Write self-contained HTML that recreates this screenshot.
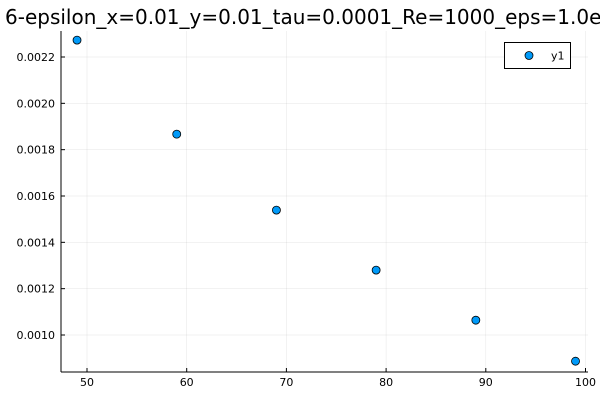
<!DOCTYPE html>
<html><head><meta charset="utf-8"><style>
html,body{margin:0;padding:0;background:#fff;}
svg{display:block;font-family:"DejaVu Sans","Liberation Sans",sans-serif;}
</style></head><body>
<svg id="chart" width="600" height="400" viewBox="0 0 600 400">
<text x="5" y="24" font-size="20" fill="#000">6-epsilon_x=0.01_y=0.01_tau=0.0001_Re=1000_eps=1.0e-6</text>
<g id="grid"></g>
<g id="axes"></g>
<g id="points"></g>
<g>
<rect x="504.5" y="42.5" width="66" height="26" fill="#fff" stroke="#000" stroke-width="1"/>
<circle cx="529" cy="55.5" r="4" fill="#009af9" stroke="#000" stroke-width="0.8"/>
<text x="551" y="59.5" font-size="11" fill="#000">y1</text>
</g>
</svg>
<script>
const xValues=[49,59,69,79,89,99];
const yValues=[0.002273,0.001867,0.001539,0.00128,0.001064,0.000887];
const xTicks=[50,60,70,80,90,100];
const yTicks=[0.0010,0.0012,0.0014,0.0016,0.0018,0.0020,0.0022];
const L=61,R=588,T=31,B=372;
function sx(v){return 87+(v-50)*(585.5-87)/50;}
function sy(v){return 57+(0.0022-v)/0.0012*(335-57);}
const NS="http://www.w3.org/2000/svg";
const grid=document.getElementById('grid'),axes=document.getElementById('axes'),pts=document.getElementById('points');
function mk(tag,attrs,parent){const e=document.createElementNS(NS,tag);for(const k in attrs)e.setAttribute(k,attrs[k]);parent.appendChild(e);return e;}
xTicks.forEach(t=>{const x=sx(t);
 const g=mk('line',{x1:x,x2:x,y1:T,y2:B,stroke:'#000','stroke-opacity':0.1,'stroke-width':0.5},grid);
 
 
 const tk=mk('line',{x1:x,x2:x,y1:B,y2:B-4,stroke:'#000','stroke-width':1},axes);
 
 
 const tx=mk('text',{x:x,y:B+14,'font-size':11,'text-anchor':'middle',fill:'#000'},axes);
 tx.textContent=String(t);
 
 
});
yTicks.forEach(t=>{const y=sy(t);
 const g=mk('line',{x1:L,x2:R,y1:y,y2:y,stroke:'#000','stroke-opacity':0.1,'stroke-width':0.5},grid);
 
 
 const tk=mk('line',{x1:L,x2:L+4,y1:y,y2:y,stroke:'#000','stroke-width':1},axes);
 
 
 const tx=mk('text',{x:L-6,y:y+4,'font-size':11,'text-anchor':'end',fill:'#000'},axes);
 tx.textContent=t.toFixed(4);
 
 
});
const xa=mk('line',{x1:L,x2:R,y1:B,y2:B,stroke:'#000','stroke-width':1},axes);


const ya=mk('line',{x1:L,x2:L,y1:T,y2:B,stroke:'#000','stroke-width':1},axes);


xValues.forEach((xv,i)=>{
 const c=mk('circle',{cx:sx(xv),cy:sy(yValues[i]),r:4,fill:'#009af9',stroke:'#000','stroke-width':0.8},pts);
 
 
});
</script>
</body></html>
